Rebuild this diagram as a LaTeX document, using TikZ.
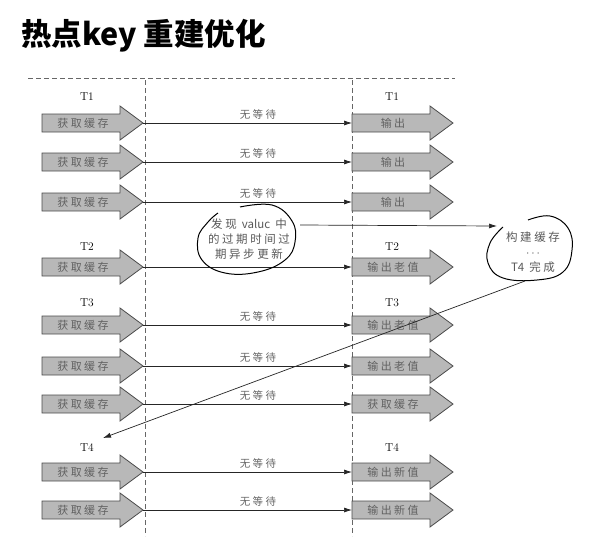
\documentclass[tikz,border=0pt]{standalone}
\usepackage{fontspec}
\newfontfamily\cjk{Noto Sans CJK SC}
\newfontfamily\cjkwide{Noto Sans CJK SC}[LetterSpace=22]
\usetikzlibrary{arrows.meta}

\tikzset{
  garrow/.style={draw=black!70,fill=black!28,line width=0.8pt},
  gtext/.style={font=\cjkwide\fontsize{11}{12}\selectfont,text=black!62,inner sep=0pt},
  tlabel/.style={font=\fontsize{11.5}{12}\selectfont},
  conn/.style={black!85,line width=0.7pt,-{Latex[length=8pt,width=5pt]}},
  waitlabel/.style={font=\cjkwide\fontsize{10.5}{12}\selectfont,text=black!60,above,pos=0.55,inner sep=3pt},
  sepline/.style={black!60,line width=0.8pt,dash pattern=on 5pt off 3pt},
  loopline/.style={black,line width=1pt},
  notetext/.style={font=\cjkwide\fontsize{11.5}{15}\selectfont,text=black!65,align=center}
}

% grey block arrow with a named label
\newcommand{\fatarrow}[4]{%
  \draw[garrow] (#2,#3-9) -- ++(78,0) -- ++(0,-8) -- ++(23,17) -- ++(-23,17) -- ++(0,-8) -- ++(-78,0) -- cycle;
  \node[gtext] (#1) at (#2+41,#3) {#4};
  \coordinate (#1start) at (#2,#3);
  \coordinate (#1tip) at (#2+101,#3);
}

\begin{document}
\begin{tikzpicture}[x=1pt,y=-1pt]
  \fill[white] (0,0) rectangle (596,536);
  \useasboundingbox (0,0) rectangle (596,536);

  \node[anchor=west,font=\cjk\bfseries\fontsize{30.5}{32}\selectfont,inner sep=0pt] (title) at (21,36) {热点key 重建优化};

  \draw[sepline] (28,78) -- (455,78);
  \draw[sepline] (145,80) -- (145,536);
  \draw[sepline] (352,80) -- (352,536);

  % T1
  \node[tlabel] (t1l) at (87,97) {T1};
  \node[tlabel] (t1r) at (392,97) {T1};
  \fatarrow{l1}{42}{123}{获取缓存}
  \fatarrow{l2}{42}{162}{获取缓存}
  \fatarrow{l3}{42}{202}{获取缓存}
  \fatarrow{r1}{352}{123}{输出}
  \fatarrow{r2}{352}{162}{输出}
  \fatarrow{r3}{352}{202}{输出}
  \draw[conn] (l1tip) -- node[waitlabel]{无等待} (r1start);
  \draw[conn] (l2tip) -- node[waitlabel]{无等待} (r2start);
  \draw[conn] (l3tip) -- node[waitlabel]{无等待} (r3start);

  % T2
  \node[tlabel] (t2l) at (87,247) {T2};
  \node[tlabel] (t2r) at (392,247) {T2};
  \fatarrow{l4}{42}{267}{获取缓存}
  \fatarrow{r4}{352}{267}{输出老值}
  \draw[conn] (l4tip) -- (r4start);

  % T3
  \node[tlabel] (t3l) at (87,303) {T3};
  \node[tlabel] (t3r) at (392,303) {T3};
  \fatarrow{l5}{42}{325}{获取缓存}
  \fatarrow{l6}{42}{366}{获取缓存}
  \fatarrow{l7}{42}{404}{获取缓存}
  \fatarrow{r5}{352}{325}{输出老值}
  \fatarrow{r6}{352}{366}{输出老值}
  \fatarrow{r7}{352}{404}{获取缓存}
  \draw[conn] (l5tip) -- node[waitlabel]{无等待} (r5start);
  \draw[conn] (l6tip) -- node[waitlabel]{无等待} (r6start);
  \draw[conn] (l7tip) -- node[waitlabel]{无等待} (r7start);

  % T4
  \node[tlabel] (t4l) at (87,448) {T4};
  \node[tlabel] (t4r) at (392,448) {T4};
  \fatarrow{l8}{42}{472}{获取缓存}
  \fatarrow{l9}{42}{510}{获取缓存}
  \fatarrow{r8}{352}{472}{输出新值}
  \fatarrow{r9}{352}{510}{输出新值}
  \draw[conn] (l8tip) -- node[waitlabel]{无等待} (r8start);
  \draw[conn] (l9tip) -- node[waitlabel]{无等待} (r9start);

  % hand drawn notes
  \node[notetext] (note1) at (249,239) {发现 {\cjk valuc} 中\\的过期时间过\\期异步更新};
  \draw[loopline] plot[smooth,tension=0.7] coordinates {(240,207) (272,205) (292,221) (295,242) (285,260) (258,272) (225,273) (202,260) (198,238) (208,222) (218,213)};
  \node[notetext] (note2) at (533,252) {构建缓存\\$\cdots$\\{\cjk T4} 完成};
  \draw[loopline] plot[smooth,tension=0.7] coordinates {(528,220) (550,216) (568,228) (572,250) (563,272) (537,280) (503,278) (488,263) (490,243) (503,227)};
  \coordinate (note1out) at (300,225);
  \coordinate (note2in) at (497,226);
  \coordinate (note2out) at (525,281);
  \coordinate (t4mark) at (103,438);
  \draw[conn] (note1out) -- (note2in);
  \draw[conn] (note2out) -- (t4mark);
\end{tikzpicture}
\end{document}
